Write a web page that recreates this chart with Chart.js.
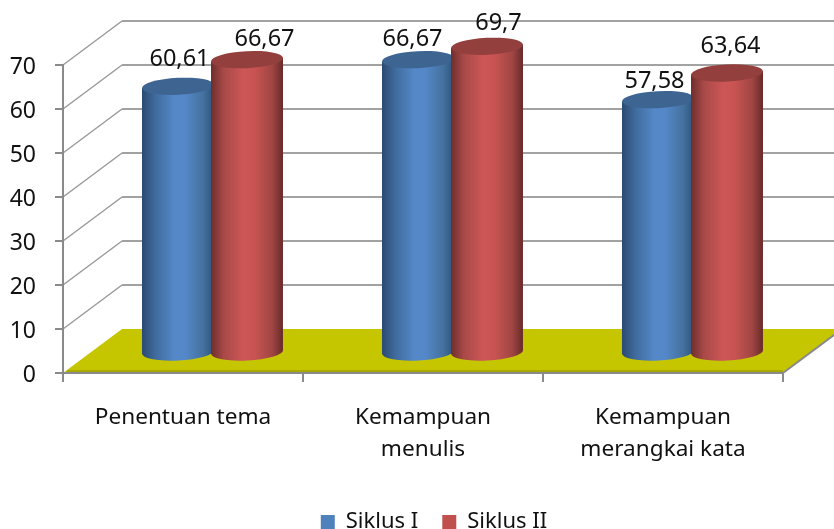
<!DOCTYPE html>
<html>
<head>
<meta charset="utf-8">
<style>
  html, body { margin: 0; padding: 0; background: #fff; overflow: hidden; }
  #wrap { width: 834px; height: 529px; }
</style>
<script src="https://cdn.jsdelivr.net/npm/chart.js@4/dist/chart.umd.min.js"></script>
</head>
<body>
<div id="wrap"><canvas id="myChart"></canvas></div>
<script>
const categories = ['Penentuan tema', ['Kemampuan', 'menulis'], ['Kemampuan', 'merangkai kata']];
const siklusI = [60.61, 66.67, 57.58];
const siklusII = [66.67, 69.7, 63.64];
const labelsI = ['60,61', '66,67', '57,58'];
const labelsII = ['66,67', '69,7', '63,64'];

const FONT = '"Noto Sans", sans-serif';
const GREY = '#8a8a8a';
const DEPTH_X = 59;
const DEPTH_Y = 44;

// shades across the cylinder, left to right
const SHADES = [
    ['#2b4a70', '#3f6a9c', '#5488c8', '#5488c8', '#44719f', '#2f5279'],
    ['#6e2e2c', '#a84a48', '#cd5656', '#c85452', '#a04644', '#672a29']
];
const TOPS = ['#3e6592', '#933f3d'];

// moves each value text off the top of its cylinder [dx, dy]
const NUDGE = [
    [[1.5, -27], [-5.5, -20], [-3.5, -18]],
    [[17.5, -20], [11.5, -23], [3.5, -27]]
];

const wallsPlugin = {
    id: 'walls',
    afterLayout(chart) {
        // legend sits a little right of the page centre
        chart.legend.left += 34;
    },
    beforeDraw(chart) {
        const ctx = chart.ctx;
        const y = chart.scales.y;
        const a = chart.chartArea;
        ctx.save();
        // gridlines run up the side wall then along the back wall
        y.ticks.forEach(t => {
            if (t.value == 0) return;
            const py = y.getPixelForValue(t.value);
            ctx.strokeStyle = '#9a9a9a';
            ctx.lineWidth = 1.5;
            ctx.beginPath();
            ctx.moveTo(a.left, py);
            ctx.lineTo(a.left + DEPTH_X, py - DEPTH_Y);
            ctx.stroke();
            ctx.strokeStyle = '#a2a2a2';
            ctx.lineWidth = 2;
            ctx.beginPath();
            ctx.moveTo(a.left + DEPTH_X, py - DEPTH_Y);
            ctx.lineTo(a.right + DEPTH_X, py - DEPTH_Y);
            ctx.stroke();
        });
        // floor
        const py0 = y.getPixelForValue(0);
        ctx.beginPath();
        ctx.moveTo(a.left, py0);
        ctx.lineTo(a.left + DEPTH_X, py0 - DEPTH_Y);
        ctx.lineTo(a.right + DEPTH_X, py0 - DEPTH_Y);
        ctx.lineTo(a.right, py0);
        ctx.closePath();
        ctx.fillStyle = '#c6c600';
        ctx.fill();
        ctx.fillStyle = '#a9a900';
        ctx.fillRect(a.left + 4, py0 - 3, a.right - a.left - 4, 3);
        ctx.beginPath();
        ctx.moveTo(a.right, py0);
        ctx.lineTo(a.right + DEPTH_X, py0 - DEPTH_Y);
        ctx.strokeStyle = GREY;
        ctx.lineWidth = 2;
        ctx.stroke();
        ctx.restore();
    }
};

function drawCylinder(ctx, cx, top, bottom, w, shades, topColor) {
    const rx = w / 2;
    const ry = 8.5;
    const tilt = -0.05;
    const lift = rx * Math.sin(tilt);
    const grad = ctx.createLinearGradient(cx - rx, 0, cx + rx, 0);
    const stops = [0, 0.18, 0.45, 0.6, 0.85, 1];
    stops.forEach((s, i) => grad.addColorStop(s, shades[i]));
    ctx.beginPath();
    ctx.moveTo(cx - rx, top - lift);
    ctx.lineTo(cx - rx, bottom - lift);
    ctx.ellipse(cx, bottom, rx, ry, tilt, Math.PI, 0, true);
    ctx.lineTo(cx + rx, top + lift);
    ctx.closePath();
    ctx.fillStyle = grad;
    ctx.fill();
    ctx.beginPath();
    ctx.ellipse(cx, top, rx, ry, tilt, 0, Math.PI * 2);
    ctx.fillStyle = topColor;
    ctx.fill();
}

const cylinderPlugin = {
    id: 'cylinders',
    beforeDatasetsDraw(chart) {
        const ctx = chart.ctx;
        const liftY = 20;
        ctx.save();
        // blue first, the red one sits over its edge
        [0, 1].forEach(ds => {
            chart.getDatasetMeta(ds).data.forEach(bar => {
                drawCylinder(ctx, bar.x + DEPTH_X / 2, bar.y - liftY, bar.base - liftY, bar.width + 3, SHADES[ds], TOPS[ds]);
            });
        });
        ctx.restore();
    },
    // default flat bars are replaced by the cylinders above
    beforeDatasetDraw() {
        return false;
    },
    afterDatasetsDraw(chart) {
        const ctx = chart.ctx;
        ctx.save();
        ctx.font = '23.5px ' + FONT;
        ctx.fillStyle = '#111';
        ctx.textAlign = 'center';
        ctx.textBaseline = 'middle';
        [labelsI, labelsII].forEach((texts, ds) => {
            chart.getDatasetMeta(ds).data.forEach((bar, i) => {
                const n = NUDGE[ds][i];
                ctx.fillText(texts[i], bar.x + DEPTH_X / 2 + n[0], bar.y - 20 + n[1]);
            });
        });
        ctx.restore();
    }
};

new Chart(document.getElementById('myChart'), {
    type: 'bar',
    data: {
        labels: categories,
        datasets: [
            { label: 'Siklus I', data: siklusI, backgroundColor: '#4f81bd', categoryPercentage: 0.575, barPercentage: 1 },
            { label: 'Siklus II', data: siklusII, backgroundColor: '#c0504d', categoryPercentage: 0.575, barPercentage: 1 }
        ]
    },
    options: {
        responsive: true,
        maintainAspectRatio: false,
        animation: false,
        layout: { padding: { left: 0, top: 65, right: 0, bottom: -14 } },
        plugins: {
            tooltip: { enabled: false },
            legend: {
                position: 'bottom',
                labels: {
                    boxWidth: 14,
                    boxHeight: 14,
                    padding: 24,
                    color: '#111',
                    font: { family: FONT, size: 22 }
                }
            }
        },
        scales: {
            x: {
                afterFit(s) { s.height = 114; },
                grid: { drawOnChartArea: false, tickLength: 9, color: GREY, lineWidth: 2 },
                border: { color: GREY, width: 2 },
                ticks: {
                    autoSkip: false,
                    maxRotation: 0,
                    padding: 20,
                    color: '#111',
                    font: { family: FONT, size: 22.6, lineHeight: 1.416 }
                }
            },
            y: {
                min: 0,
                max: 70,
                afterFit(s) { s.width = 63; },
                grid: { drawOnChartArea: false, tickLength: 8, color: GREY, lineWidth: 2 },
                border: { color: GREY, width: 2 },
                ticks: {
                    stepSize: 10,
                    padding: 19,
                    labelOffset: 2.5,
                    color: '#111',
                    font: { family: FONT, size: 23 }
                }
            },
            // empty right axis, stops the plot at the front right corner
            right: {
                position: 'right',
                min: 0,
                max: 70,
                afterFit(s) { s.width = 51; },
                grid: { display: false },
                border: { display: false },
                ticks: { display: false }
            }
        }
    },
    plugins: [wallsPlugin, cylinderPlugin]
});
</script>
</body>
</html>
